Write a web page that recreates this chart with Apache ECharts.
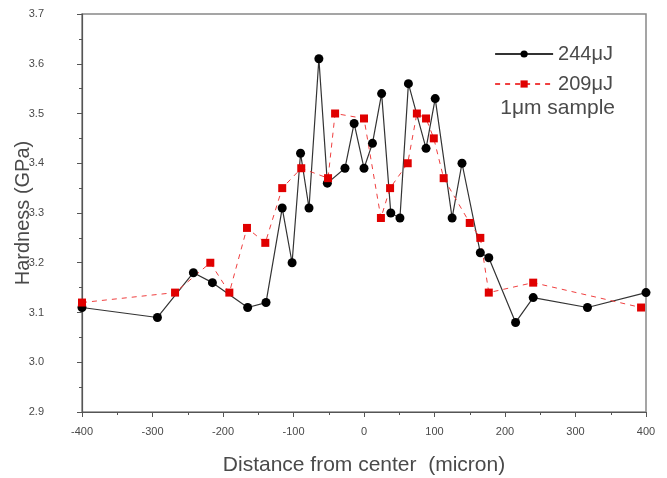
<!DOCTYPE html>
<html>
<head>
<meta charset="utf-8">
<script src="https://cdn.jsdelivr.net/npm/echarts@6/dist/echarts.min.js"></script>
<style>
html,body{margin:0;padding:0;background:#fff;}
#c{width:667px;height:478px;}
</style>
</head>
<body>
<div id="c"></div>
<script>
const blackX = [-400,-293,-242,-215,-165,-139,-116,-102,-90,-78,-64,-52,-27,-14,0,12,25,38,51,63,88,101,125,139,165,177,215,240,317,400];
const blackY = [3.11,3.09,3.18,3.16,3.11,3.12,3.31,3.20,3.42,3.31,3.61,3.36,3.39,3.48,3.39,3.44,3.54,3.30,3.29,3.56,3.43,3.53,3.29,3.40,3.22,3.21,3.08,3.13,3.11,3.14];
const redX = [-400,-268,-218,-191,-166,-140,-116,-89,-51,-41,0,24,37,62,75,88,99,113,150,165,177,240,393];
const redY = [3.12,3.14,3.20,3.14,3.27,3.24,3.35,3.39,3.37,3.50,3.49,3.29,3.35,3.40,3.50,3.49,3.45,3.37,3.28,3.25,3.14,3.16,3.11];
const seriesNames = ['244\u03bcJ','209\u03bcJ'];
const noteText = '1\u03bcm sample';
const xTitle = 'Distance from center  (micron)';
const yTitle = 'Hardness (GPa)';

const pair = (xs, ys) => xs.map((x, i) => [x, ys[i]]);
const font = 'Liberation Sans, Arial, sans-serif';
const txt = '#4a4a4a';
const chart = echarts.init(document.getElementById('c'));
const axisCommon = {
  axisLine: {show: true, onZero: false, lineStyle: {color: '#555', width: 1.2}},
  axisTick: {show: true, inside: false, length: 5, lineStyle: {color: '#555'}},
  minorTick: {show: true, splitNumber: 2, length: 3, lineStyle: {color: '#555'}},
  splitLine: {show: false},
  axisLabel: {color: txt, fontFamily: font, fontSize: 11},
  nameMoveOverlap: false
};
chart.setOption({
  animation: false,
  backgroundColor: '#fff',
  grid: {left: 82, right: 21, top: 14, bottom: 66, show: true, borderColor: '#888', borderWidth: 1.5,
         containLabel: false, outerBoundsMode: 'none'},
  xAxis: Object.assign({}, axisCommon, {
    type: 'value', min: -400, max: 400, interval: 100,
    name: xTitle, nameLocation: 'middle', nameGap: 43,
    nameTextStyle: {color: txt, fontFamily: font, fontSize: 21},
    axisLabel: Object.assign({}, axisCommon.axisLabel, {margin: 14})
  }),
  yAxis: Object.assign({}, axisCommon, {
    type: 'value', min: 2.9, max: 3.7, interval: 0.1,
    name: yTitle, nameLocation: 'middle', nameGap: 49,
    nameTextStyle: {color: txt, fontFamily: font, fontSize: 20},
    axisLabel: Object.assign({}, axisCommon.axisLabel, {margin: 38, formatter: v => v.toFixed(1)})
  }),
  legend: {
    data: seriesNames, orient: 'vertical', right: 49, top: 39,
    itemWidth: 58, itemHeight: 9, itemGap: 10,
    textStyle: {color: txt, fontFamily: font, fontSize: 20}
  },
  graphic: [{
    type: 'text', right: 52, top: 98,
    style: {text: noteText, fill: txt, font: '21px ' + font}
  }],
  series: [
    {
      name: seriesNames[0], type: 'line', data: pair(blackX, blackY),
      symbol: 'circle', symbolSize: 9,
      lineStyle: {color: '#333', width: 1.2},
      itemStyle: {color: '#000'}
    },
    {
      name: seriesNames[1], type: 'line', data: pair(redX, redY),
      symbol: 'rect', symbolSize: 8,
      lineStyle: {color: '#f04040', width: 1, type: [5, 5]},
      itemStyle: {color: '#e00000'}
    }
  ]
});
</script>
</body>
</html>
